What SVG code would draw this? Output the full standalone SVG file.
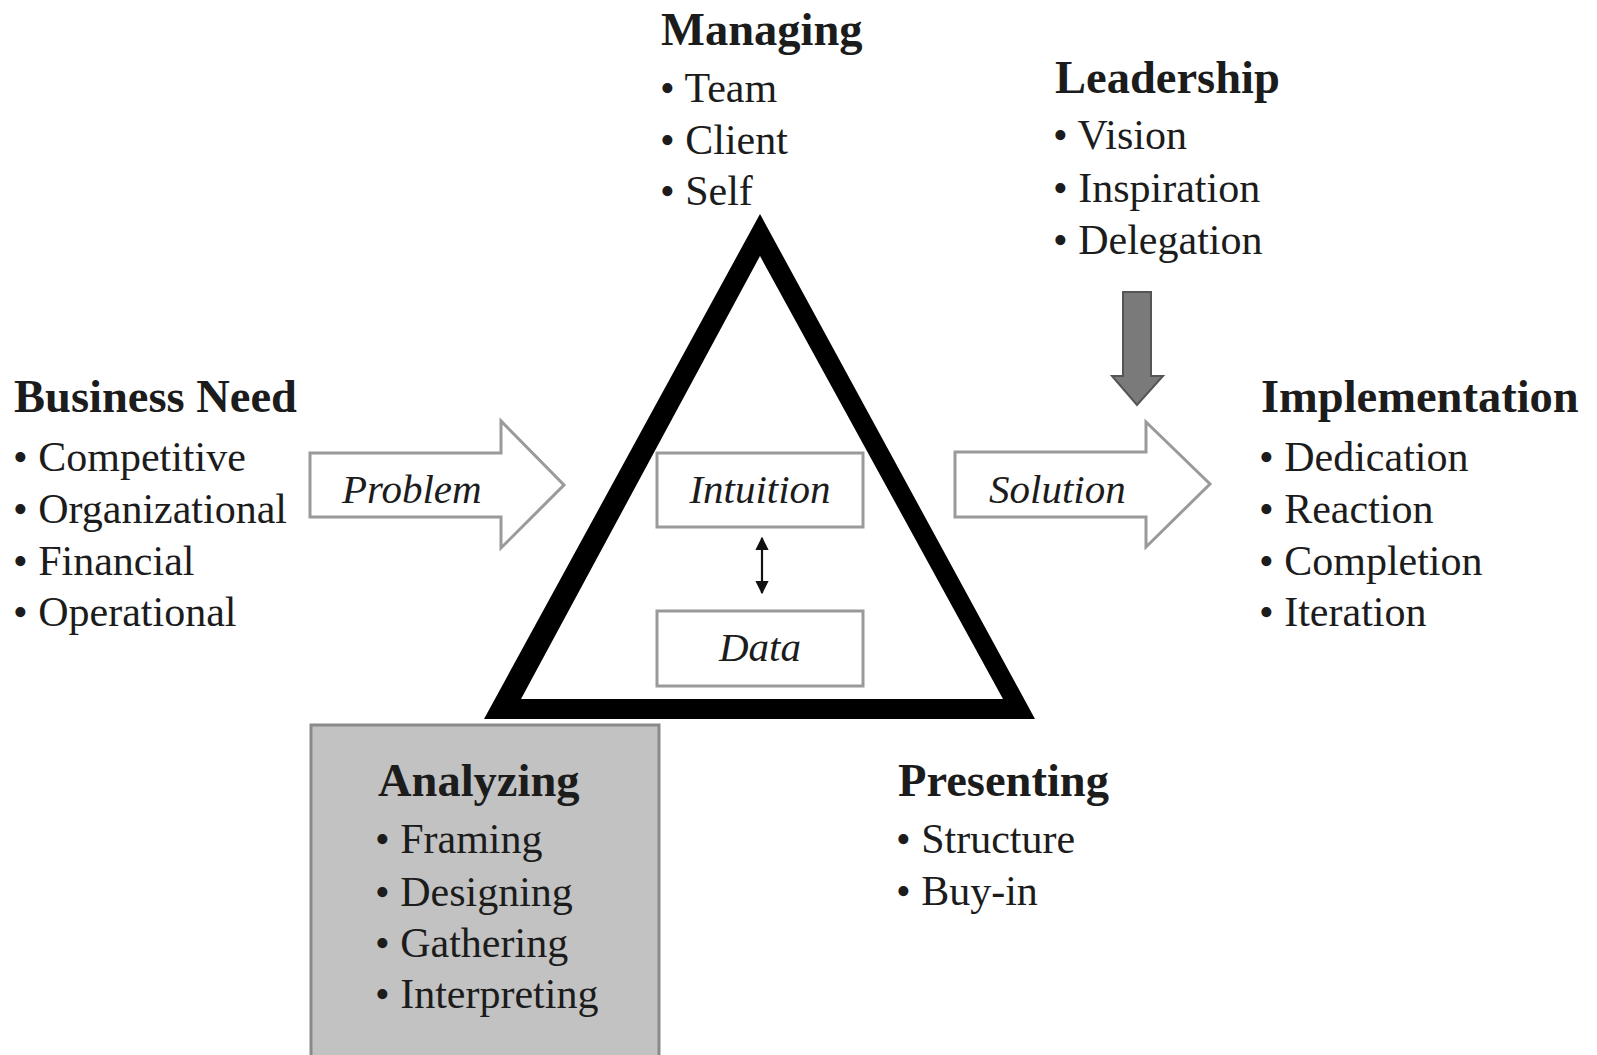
<svg xmlns="http://www.w3.org/2000/svg" width="1597" height="1055" viewBox="0 0 1597 1055">
<style>
  text { font-family: "Liberation Serif", "Times New Roman", serif; fill: #1c1c1c; }
  .h { font-size: 46.5px; font-weight: bold; }
  .b { font-size: 42px; }
  .i { font-size: 41px; font-style: italic; }
  .blk { fill: #ffffff; stroke: #9a9a9a; stroke-width: 3; stroke-linejoin: miter; }
  .box { fill: #ffffff; stroke: #9a9a9a; stroke-width: 3; }
</style>
<defs>
  <marker id="ah" viewBox="0 0 10 10" refX="9" refY="5" markerWidth="6" markerHeight="6" orient="auto-start-reverse" markerUnits="strokeWidth">
    <path d="M0,0 L10,5 L0,10 z" fill="#111"/>
  </marker>
</defs>
<rect width="1597" height="1055" fill="#ffffff"/>

<g id="analyzing">
  <rect x="311" y="725" width="348" height="345" fill="#c2c2c2" stroke="#8a8a8a" stroke-width="3"/>
  <text class="h" x="378" y="796">Analyzing</text>
  <text class="b" x="375" y="853">• Framing</text>
  <text class="b" x="375" y="906">• Designing</text>
  <text class="b" x="375" y="957">• Gathering</text>
  <text class="b" x="375" y="1008">• Interpreting</text>
</g>

<g id="triangle">
  <path d="M760,214 L1035,719 L484,719 Z M760,256 L521,699 L1003,699 Z" fill="#000" fill-rule="evenodd"/>
</g>

<g id="intuition">
  <rect class="box" x="657" y="453" width="206" height="74"/>
  <text class="i" x="760" y="503" text-anchor="middle">Intuition</text>
</g>

<g id="data">
  <rect class="box" x="657" y="611" width="206" height="75"/>
  <text class="i" x="760" y="661" text-anchor="middle">Data</text>
</g>

<g id="managing">
  <text class="h" x="661" y="45">Managing</text>
  <text class="b" x="660" y="102">• Team</text>
  <text class="b" x="660" y="154">• Client</text>
  <text class="b" x="660" y="205">• Self</text>
</g>

<g id="leadership">
  <text class="h" x="1055" y="93">Leadership</text>
  <text class="b" x="1053" y="149">• Vision</text>
  <text class="b" x="1053" y="202">• Inspiration</text>
  <text class="b" x="1053" y="254">• Delegation</text>
</g>

<g id="business-need">
  <text class="h" x="14" y="412">Business Need</text>
  <text class="b" x="13" y="471">• Competitive</text>
  <text class="b" x="13" y="523">• Organizational</text>
  <text class="b" x="13" y="575">• Financial</text>
  <text class="b" x="13" y="626">• Operational</text>
</g>

<g id="implementation">
  <text class="h" x="1261" y="412">Implementation</text>
  <text class="b" x="1259" y="471">• Dedication</text>
  <text class="b" x="1259" y="523">• Reaction</text>
  <text class="b" x="1259" y="575">• Completion</text>
  <text class="b" x="1259" y="626">• Iteration</text>
</g>

<g id="presenting">
  <text class="h" x="898" y="796">Presenting</text>
  <text class="b" x="896" y="853">• Structure</text>
  <text class="b" x="896" y="905">• Buy-in</text>
</g>

<g id="problem">
  <polygon class="blk" points="310,453 501,453 501,421 564,485 501,548 501,517 310,517"/>
  <text class="i" x="342" y="503">Problem</text>
</g>

<g id="solution">
  <polygon class="blk" points="955,452 1146,452 1146,422 1210,484 1146,547 1146,517 955,517"/>
  <text class="i" x="989" y="503">Solution</text>
</g>

<g id="connectors">
  <line x1="762" y1="538" x2="762" y2="593" stroke="#111" stroke-width="2.2" marker-start="url(#ah)" marker-end="url(#ah)"/>
  <polygon points="1123,292 1151,292 1151,376 1163,376 1137,405 1112,376 1123,376" fill="#7a7a7a" stroke="#555" stroke-width="2"/>
</g>
</svg>
